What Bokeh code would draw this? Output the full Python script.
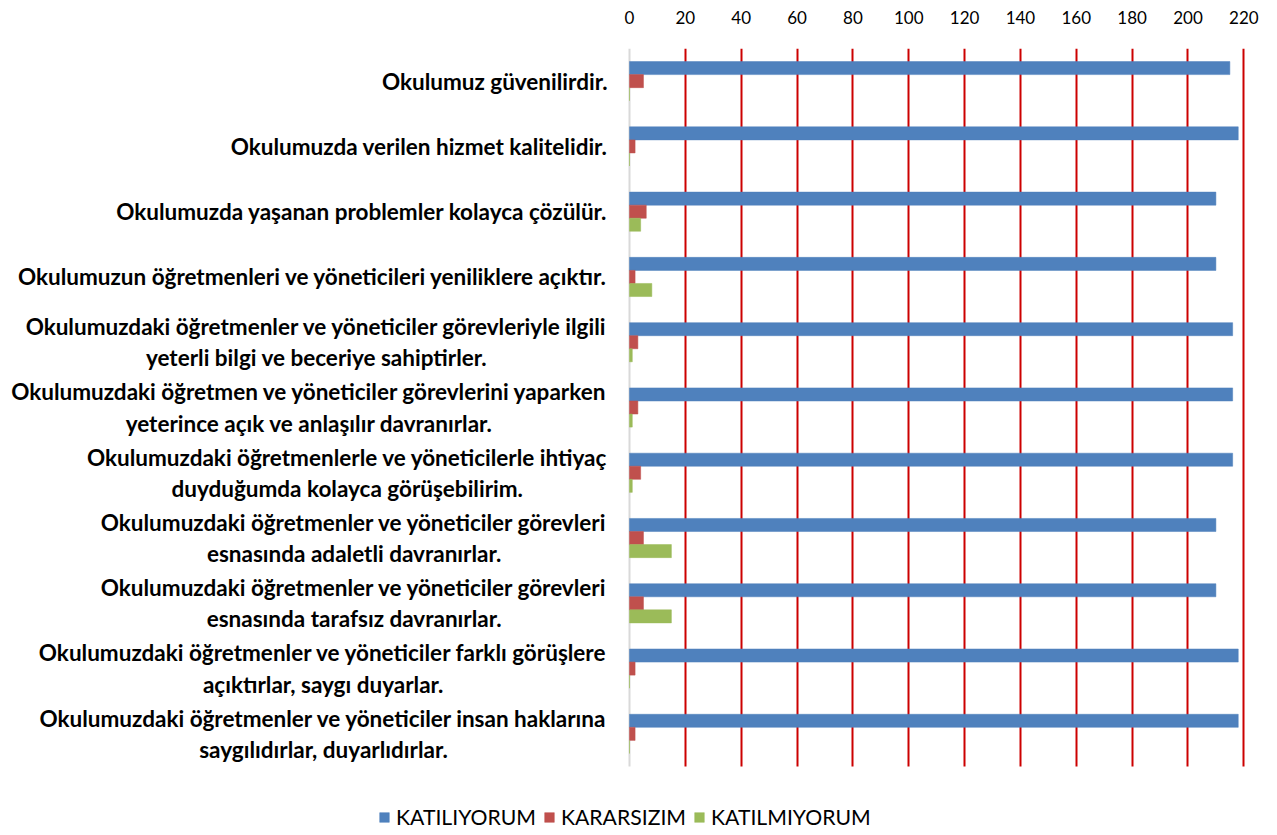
from bokeh.plotting import figure
from bokeh.models import (Range1d, FixedTicker, Legend, LegendItem, ColumnDataSource,
                          Text, Grid, BoxAnnotation)
from bokeh.core.properties import value
from bokeh.embed import file_html
from bokeh.resources import INLINE

labels = [
    "Okulumuz güvenilirdir.",
    "Okulumuzda verilen hizmet kalitelidir.",
    "Okulumuzda yaşanan problemler kolayca çözülür.",
    "Okulumuzun öğretmenleri ve yöneticileri yeniliklere açıktır.",
    "Okulumuzdaki öğretmenler ve yöneticiler görevleriyle ilgili\nyeterli bilgi ve beceriye sahiptirler.",
    "Okulumuzdaki öğretmen ve yöneticiler görevlerini yaparken\nyeterince açık ve anlaşılır davranırlar.",
    "Okulumuzdaki öğretmenlerle ve yöneticilerle ihtiyaç\nduyduğumda kolayca görüşebilirim.",
    "Okulumuzdaki öğretmenler ve yöneticiler görevleri\nesnasında adaletli davranırlar.",
    "Okulumuzdaki öğretmenler ve yöneticiler görevleri\nesnasında tarafsız davranırlar.",
    "Okulumuzdaki öğretmenler ve yöneticiler farklı görüşlere\naçıktırlar, saygı duyarlar.",
    "Okulumuzdaki öğretmenler ve yöneticiler insan haklarına\nsaygılıdırlar, duyarlıdırlar.",
]
katiliyorum = [215, 218, 210, 210, 216, 216, 216, 210, 210, 218, 218]
kararsizim = [5, 2, 6, 2, 3, 3, 4, 5, 5, 2, 2]
katilmiyorum = [0, 0, 4, 8, 1, 1, 1, 15, 15, 0, 0]
series_names = ["KATILIYORUM", "KARARSIZIM", "KATILMIYORUM"]
colors = ["#4F81BD", "#C0504D", "#9BBB59"]
x_ticks = list(range(0, 221, 20))

n = len(labels)
pos = list(range(1, n + 1))

# layout: the frame spans the label area (value 0 sits 629 px from the left edge)
# and reaches down to the bottom so that the legend can sit inside it
px_per_unit = 616 / 220.6
x_start = -629 / px_per_unit
row_px = 718 / n
fig_h = 835
top_px = 48
extra_px = fig_h - top_px - 718
y_end = n + 0.5 + extra_px / row_px

p = figure(width=1269, height=fig_h, output_backend="svg", toolbar_location=None,
           x_range=Range1d(x_start, 220.6), y_range=Range1d(y_end, 0.5),
           x_axis_location="above", y_axis_location=None,
           frame_width=1245, frame_height=fig_h - top_px,
           min_border_left=0, min_border_top=top_px, min_border_right=24, min_border_bottom=0)
p.outline_line_color = None

has_cross = "cross_bounds" in Grid.properties()

items = []
offsets = [-0.2, 0.0, 0.2]
for vals, name, col, off in zip([katiliyorum, kararsizim, katilmiyorum], series_names, colors, offsets):
    src = ColumnDataSource(dict(y=[v + off for v in pos], right=vals))
    r = p.hbar(y="y", left=0, right="right", height=0.2, source=src,
               fill_color=col, line_color=col, line_alpha=0.5)
    items.append(LegendItem(label=name, renderers=[r]))

lab_src = ColumnDataSource(dict(y=pos, text=labels))
text_kw = dict(text_font=value("Lato"), text_font_style="bold", text_font_size=value("22.5px"),
               text_line_height=1.16, text_color="#000000", text_baseline="middle")
if "anchor" in Text.properties():
    text_kw.update(anchor="center_right", text_align="center")
else:
    text_kw.update(text_align="right")
p.text(x=-22 / px_per_unit, y="y", text="text", source=lab_src, **text_kw)

p.xaxis.ticker = FixedTicker(ticks=x_ticks)
p.xaxis.axis_line_color = None
p.xaxis.major_tick_line_color = None
p.xaxis.minor_tick_line_color = None
p.xaxis.major_label_text_font = "Lato"
p.xaxis.major_label_text_font_size = "17px"
p.xaxis.major_label_text_color = "#000000"
p.xaxis.major_label_standoff = 19

p.xgrid.ticker = FixedTicker(ticks=x_ticks[1:])
p.xgrid.grid_line_color = "#CC0000"
p.xgrid.grid_line_width = 2
p.ygrid.grid_line_color = None

zero_grid = Grid(dimension=0, ticker=FixedTicker(ticks=[0]),
                 grid_line_color="#D9D9D9", grid_line_width=2)
p.add_layout(zero_grid)

if has_cross:
    p.xgrid.cross_bounds = (0.5, n + 0.5)
    zero_grid.cross_bounds = (0.5, n + 0.5)
else:
    p.add_layout(BoxAnnotation(top=n + 0.5, fill_color="white", fill_alpha=1,
                               line_color=None, level="underlay"))

legend = Legend(items=items, orientation="horizontal", location=(378, 5),
                padding=0, margin=0, spacing=7, label_standoff=6,
                glyph_width=12, glyph_height=12, label_height=20,
                label_text_font="Lato", label_text_font_size="21.2px",
                label_text_color="#000000",
                border_line_color=None, background_fill_alpha=0)
p.add_layout(legend, "center")

open("out.html", "w").write(file_html(p, INLINE))
